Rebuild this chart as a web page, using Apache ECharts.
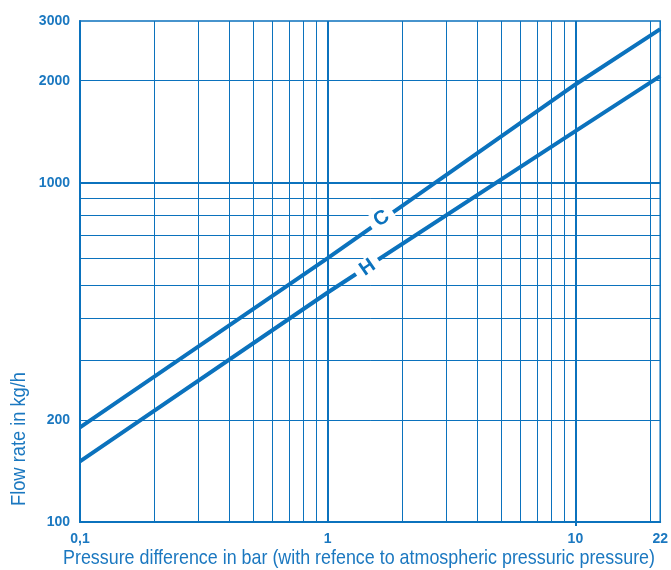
<!DOCTYPE html>
<html>
<head>
<meta charset="utf-8">
<script src="https://cdn.jsdelivr.net/npm/echarts@6/dist/echarts.min.js"></script>
<style>html,body{margin:0;padding:0;background:#fff}#c{width:671px;height:570px}</style>
</head>
<body>
<div id="c"></div>
<script>
// Data
const xTickLabels = [0.1, 1, 10, 22];
const yTickLabels = [100, 200, 1000, 2000, 3000];
const xGridValues = [0.2, 0.3, 0.4, 0.5, 0.6, 0.7, 0.8, 0.9, 1, 2, 3, 4, 5, 6, 7, 8, 9, 10, 20];
const yGridValues = [200, 300, 400, 500, 600, 700, 800, 900, 1000, 2000];
const majorX = [1, 10];
const majorY = [1000];
const pressure = [0.1, 1, 10, 22];
const seriesC = [190, 600, 1950, 2840];
const seriesH = [151, 475, 1420, 2064];
const labelC = [1.65, 784];
const labelH = [1.45, 562];
const xTitle = 'Pressure difference in bar (with refence to atmospheric pressuric pressure)';
const yTitle = 'Flow rate in kg/h';

const BLUE = '#0b72bd';
const TEXT = '#1b78c0';
const FONT = "'Liberation Sans',Arial,sans-serif";
const TITLE_FONT = '21px ' + FONT;

function textWidth(t, font) {
  const ctx = document.createElement('canvas').getContext('2d');
  ctx.font = font;
  return ctx.measureText(t).width;
}
const xScale = 592 / textWidth(xTitle, TITLE_FONT);
const yScale = 134 / textWidth(yTitle, TITLE_FONT);

const gridMarks = [];
xGridValues.forEach(v => gridMarks.push({xAxis: v, lineStyle: {width: majorX.includes(v) ? 2 : 1}}));
yGridValues.forEach(v => gridMarks.push({yAxis: v, lineStyle: {width: majorY.includes(v) ? 2 : 1}}));

const chart = echarts.init(document.getElementById('c'));
chart.setOption({
  animation: false,
  grid: {left: 80, top: 21, width: 581, height: 501, containLabel: false, show: true, borderColor: BLUE, borderWidth: 1.5},
  xAxis: {
    type: 'log', logBase: 10, min: 0.1, max: 22,
    axisLine: {show: true, lineStyle: {color: BLUE, width: 2}},
    axisTick: {show: true, customValues: [10], length: 4, inside: false, lineStyle: {color: BLUE, width: 2}},
    splitLine: {show: false},
    axisLabel: {
      customValues: xTickLabels, margin: 10, color: TEXT, fontWeight: 'bold', fontSize: 14, fontFamily: FONT,
      formatter: v => String(v).replace('.', ',')
    }
  },
  yAxis: {
    type: 'log', logBase: 10, min: 100, max: 3000,
    axisLine: {show: true, lineStyle: {color: BLUE, width: 2}},
    axisTick: {show: false},
    splitLine: {show: false},
    axisLabel: {
      customValues: yTickLabels, margin: 10, color: TEXT, fontWeight: 'bold', fontSize: 14, fontFamily: FONT,
      formatter: v => String(v)
    }
  },
  graphic: [
    {type: 'text', x: 63, y: 548, scaleX: xScale, style: {text: xTitle, fill: TEXT, font: TITLE_FONT}},
    {type: 'text', x: 9, y: 506, rotation: Math.PI / 2, scaleX: yScale, style: {text: yTitle, fill: TEXT, font: TITLE_FONT}}
  ],
  series: [
    {
      type: 'line', data: [], silent: true,
      markLine: {silent: true, symbol: 'none', label: {show: false}, lineStyle: {color: BLUE, type: 'solid', width: 1}, data: gridMarks}
    },
    {type: 'line', name: 'C', data: pressure.map((p, i) => [p, seriesC[i]]), symbol: 'none', lineStyle: {color: BLUE, width: 4}, z: 5},
    {type: 'line', name: 'H', data: pressure.map((p, i) => [p, seriesH[i]]), symbol: 'none', lineStyle: {color: BLUE, width: 4}, z: 5},
    {
      type: 'scatter', symbolSize: 0, z: 20, silent: true,
      itemStyle: {opacity: 1},
      data: [{value: labelC, name: 'C'}, {value: labelH, name: 'H'}],
      label: {show: true, position: 'inside', formatter: p => p.name, rotate: 34.5, color: BLUE, opacity: 1,
        fontWeight: 'bold', fontSize: 20, fontFamily: FONT, backgroundColor: '#fff', padding: [0, 6]}
    }
  ]
});
</script>
</body>
</html>
